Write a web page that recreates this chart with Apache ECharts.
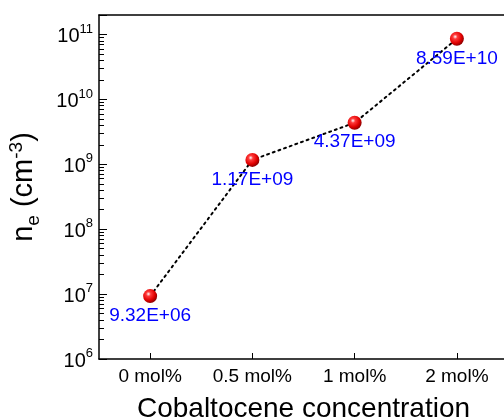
<!DOCTYPE html>
<html>
<head>
<meta charset="utf-8">
<script src="https://cdn.jsdelivr.net/npm/echarts@6/dist/echarts.min.js"></script>
<style>
  html, body { margin: 0; padding: 0; background: #fff; }
  #main { width: 504px; height: 420px; }
</style>
</head>
<body>
<div id="main"></div>
<script>
// categories and measured electron density (cm^-3)
const categories = ['0 mol%', '0.5 mol%', '1 mol%', '2 mol%'];
const density = [9.32e6, 1.17e9, 4.37e9, 8.59e10];
// y axis range, decades and minor ticks
const yMin = 1e6;
const yMax = 2e11;
const minorTicks = [];
for (let d = 1e6; d < yMax; d *= 10) {
  for (let k = 2; k <= 9; k++) {
    if (k * d <= yMax) minorTicks.push(k * d);
  }
}

// 9.32e6 -> "9.32E+06"
function sci(v) {
  const parts = v.toExponential(2).split('e');
  const e = parseInt(parts[1], 10);
  const sign = e < 0 ? '-' : '+';
  const abs = Math.abs(e);
  return parts[0] + 'E' + sign + (abs < 10 ? '0' + abs : abs);
}

const chartDom = document.getElementById('main');
const myChart = echarts.init(chartDom, null, { renderer: 'canvas' });

const font = 'Liberation Sans, Arial, sans-serif';

const option = {
  backgroundColor: '#fff',
  animation: false,
  grid: {
    left: 99, right: -4, top: 15, bottom: 61,
    containLabel: false,
    outerBoundsMode: 'none'
  },
  xAxis: [
    {
      type: 'category',
      data: categories,
      boundaryGap: true,
      name: 'Cobaltocene concentration',
      nameLocation: 'middle',
      nameGap: 36,
      nameTextStyle: { fontFamily: font, fontSize: 28, color: '#000' },
      axisLine: { lineStyle: { color: '#000', width: 1.5 } },
      axisTick: { show: true, inside: true, length: 6, alignWithLabel: true, lineStyle: { color: '#000', width: 1 } },
      axisLabel: { interval: 0, fontFamily: font, fontSize: 19, color: '#000', margin: 8 },
      splitLine: { show: false }
    },
    {
      // top frame line
      type: 'category',
      data: categories,
      position: 'top',
      axisLine: { show: true, lineStyle: { color: '#000', width: 1.5 } },
      axisTick: { show: false },
      axisLabel: { show: false },
      splitLine: { show: false }
    }
  ],
  yAxis: [
    {
      type: 'log',
      logBase: 10,
      min: yMin,
      max: yMax,
      name: '{n|n}{sub|e}{n| (cm}{sup|-3}{n|)}',
      nameLocation: 'middle',
      nameGap: 44,
      nameTextStyle: {
        fontFamily: font,
        color: '#000',
        rich: {
          n: { fontFamily: font, fontSize: 29, color: '#000', lineHeight: 42, verticalAlign: 'middle' },
          sub: { fontFamily: font, fontSize: 19, color: '#000', lineHeight: 42, verticalAlign: 'bottom', padding: [0, 0, 2, 0] },
          sup: { fontFamily: font, fontSize: 19, color: '#000', lineHeight: 42, verticalAlign: 'top', padding: [4, 0, 0, 0] }
        }
      },
      axisLine: { show: true, lineStyle: { color: '#000', width: 1.5 } },
      axisTick: { show: true, inside: true, length: 8, lineStyle: { color: '#000', width: 1 } },
      axisLabel: {
        margin: 6,
        formatter: function (v) {
          const e = Math.round(Math.log10(v));
          if (Math.abs(v - Math.pow(10, e)) / v > 1e-6) return '';
          return '{b|10}{s|' + e + '}';
        },
        rich: {
          b: { fontFamily: font, fontSize: 20, color: '#000', lineHeight: 24, verticalAlign: 'bottom' },
          s: { fontFamily: font, fontSize: 13, color: '#000', lineHeight: 24, verticalAlign: 'top' }
        }
      },
      splitLine: { show: false }
    },
    {
      // minor ticks, drawn in log10 space
      type: 'value',
      min: Math.log10(yMin),
      max: Math.log10(yMax),
      position: 'left',
      axisLine: { show: false },
      axisLabel: { show: false },
      axisTick: {
        show: true, inside: true, length: 5,
        customValues: minorTicks.map(function (v) { return Math.log10(v); }),
        lineStyle: { color: '#000', width: 1 }
      },
      splitLine: { show: false }
    }
  ],
  series: [
    {
      type: 'line',
      data: density,
      yAxisIndex: 0,
      symbol: 'circle',
      symbolSize: 14,
      lineStyle: { color: '#000', width: 2, type: [2, 4], cap: 'round' },
      itemStyle: {
        color: {
          type: 'radial', x: 0.38, y: 0.35, r: 0.65,
          colorStops: [
            { offset: 0, color: '#ffffff' },
            { offset: 0.25, color: '#ff3a3a' },
            { offset: 0.7, color: '#e00000' },
            { offset: 1, color: '#900000' }
          ]
        }
      },
      label: {
        show: true,
        position: 'bottom',
        distance: 3,
        fontFamily: font,
        fontSize: 19,
        color: '#0000ff',
        formatter: function (p) { return sci(p.value); }
      },
      z: 3
    }
  ]
};

option && myChart.setOption(option);
</script>
</body>
</html>
